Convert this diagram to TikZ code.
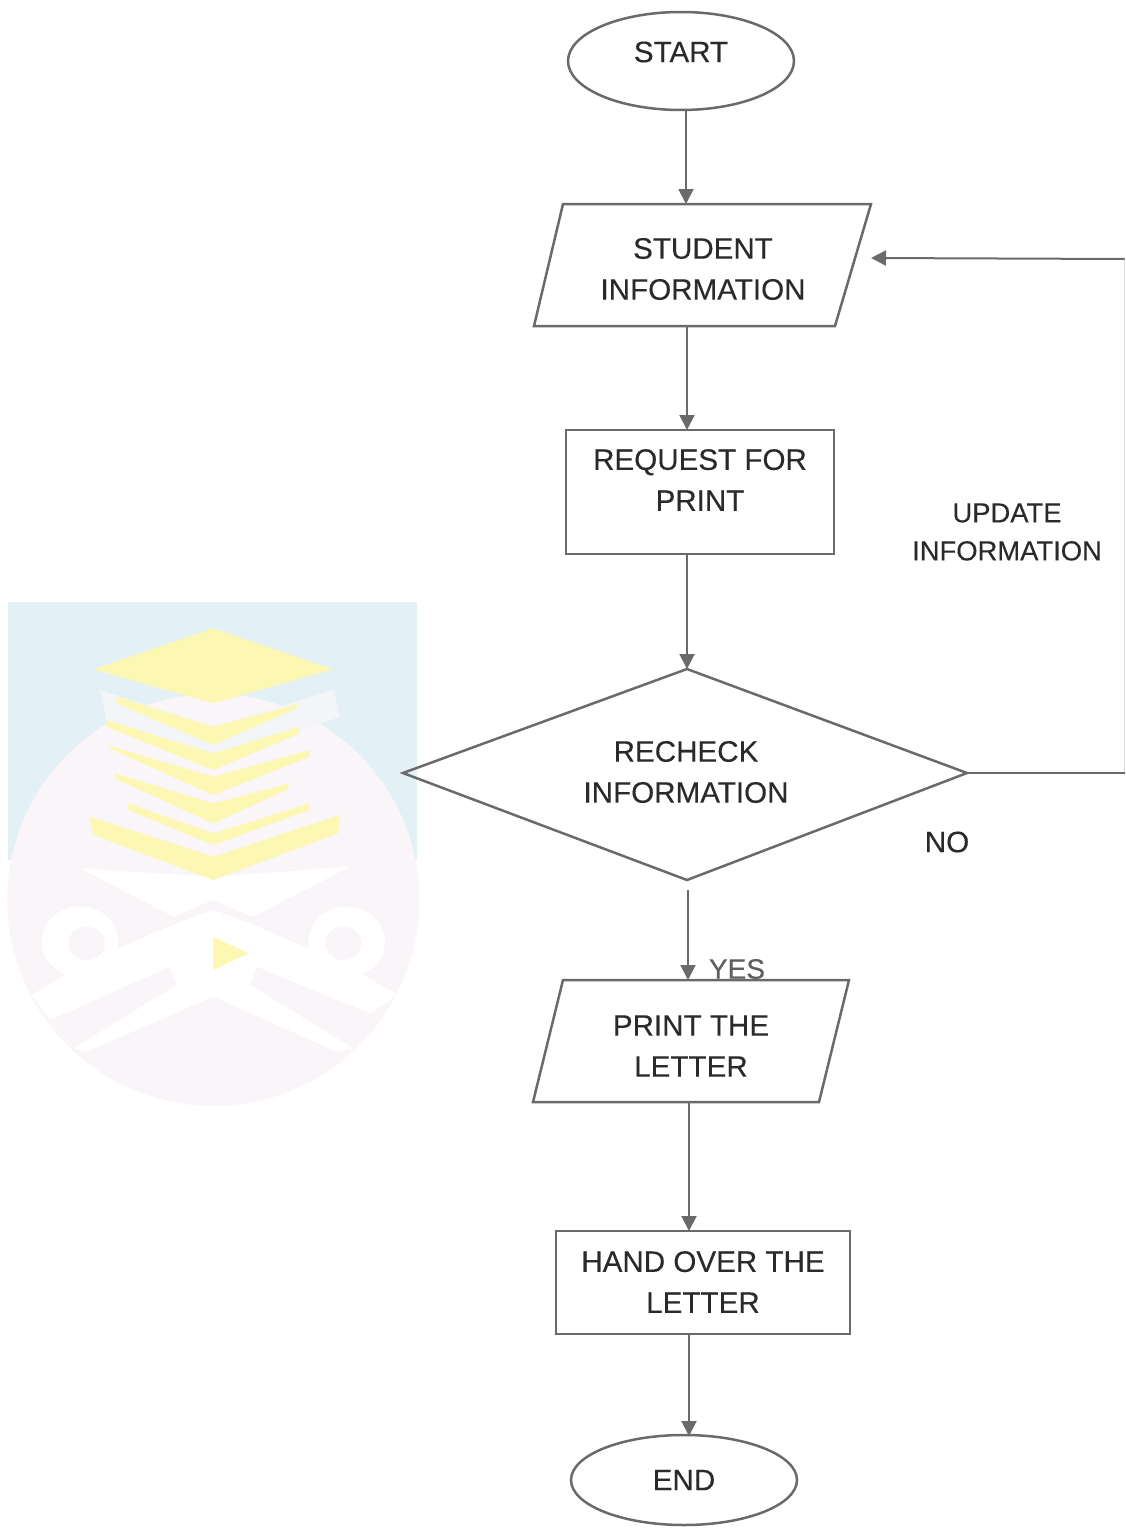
\documentclass[tikz,border=0pt]{standalone}
\usepackage{fontspec}
\setmainfont[FakeBold=0.25]{Liberation Sans}
\usetikzlibrary{arrows.meta,shapes.geometric}
\definecolor{ln}{HTML}{6A6A6A}
\definecolor{tx}{HTML}{2A2A2A}
\definecolor{wblue}{HTML}{E3F1F6}
\definecolor{wpink}{HTML}{F9F5F8}
\definecolor{wyel}{HTML}{FDF7B4}
\definecolor{wpale}{HTML}{F4F5F9}
\tikzset{
  outline/.style={draw=ln,line width=2.5pt,line join=miter},
  label/.style={text=tx,align=center,font=\fontsize{29.6}{41}\selectfont,inner sep=0pt},
  small/.style={text=tx,align=center,font=\fontsize{27.4}{38}\selectfont,inner sep=0pt},
  flow/.style={draw=ln,line width=2pt,-{Triangle[length=15pt,width=15pt,color=ln]}},
  plain/.style={draw=ln,line width=2pt},
  oval/.style={ellipse,outline,minimum width=226pt,inner sep=0pt},
  box/.style={rectangle,outline,inner sep=0pt},
}
\begin{document}
\begin{tikzpicture}[x=1pt,y=-1pt]
\useasboundingbox (0,0) rectangle (1125,1536);
% watermark
\begin{scope}[shift={(0,590)},scale=1/3]
\fill[wblue] (25,35) rectangle (1250,810);
\fill[wpink] (640,930) circle (618);
% top white chevron
\fill[white] (240,835) -- (640,860) -- (1050,830) -- (760,980) -- (640,930) -- (520,980) -- cycle;
% scroll blobs
\fill[white] (240,1055) ellipse (115 and 105);
\fill[white] (1040,1055) ellipse (115 and 105);
% crossing bands
\fill[white] (95,1215) -- (250,1120) -- (530,1000) -- (640,960) -- (750,1000) -- (1030,1120) -- (1195,1215) -- (1110,1270) -- (770,1130) -- (510,1130) -- (150,1290) -- cycle;
% centre
\fill[white] (530,1000) -- (640,960) -- (750,1000) -- (770,1130) -- (750,1185) -- (640,1220) -- (530,1185) -- (510,1130) -- cycle;
% lower gap
\fill[white] (220,1375) -- (530,1185) -- (640,1160) -- (750,1185) -- (1060,1375) -- (1010,1385) -- (640,1220) -- (260,1385) -- cycle;
% scroll centres
\fill[wpink] (260,1060) ellipse (55 and 50);
\fill[wpink] (1030,1060) ellipse (55 and 50);
\fill[wpale] (300,300) -- (640,410) -- (1000,300) -- (1020,380) -- (640,520) -- (320,390) -- cycle;
\fill[wyel] (280,238) -- (640,115) -- (1000,238) -- (640,340) -- cycle;
\fill[wyel] (350,320) -- (640,410) -- (900,340) -- (880,360) -- (640,465) -- (350,340) -- cycle;
\fill[wyel] (320,390) -- (640,490) -- (900,410) -- (900,430) -- (640,540) -- (320,410) -- cycle;
\fill[wyel] (320,465) -- (640,560) -- (930,480) -- (930,500) -- (640,615) -- (340,480) -- cycle;
\fill[wyel] (345,550) -- (640,640) -- (870,580) -- (860,600) -- (640,700) -- (345,565) -- cycle;
\fill[wyel] (385,640) -- (640,730) -- (930,640) -- (930,660) -- (640,765) -- (385,660) -- cycle;
\fill[wyel] (270,680) -- (640,800) -- (1020,675) -- (1015,730) -- (640,870) -- (280,735) -- cycle;
\fill[wyel] (640,1040) -- (745,1090) -- (640,1140) -- cycle;
\end{scope}
% shapes
\node[oval,minimum height=98pt] (start) at (681,61) {};
\node[label] (startT) at (681,52) {START};
\coordinate (s1) at (563,204); \coordinate (s2) at (871,204);
\coordinate (s3) at (835,326); \coordinate (s4) at (534,326);
\draw[outline] (s1) -- (s2) -- (s3) -- (s4) -- cycle;
\node[label] (student) at (703,269) {STUDENT\\INFORMATION};
\node[box,minimum width=268pt,minimum height=124pt] (req) at (700,492) {};
\node[label] (reqT) at (700,480) {REQUEST FOR\\PRINT};
\coordinate (d1) at (403,773); \coordinate (d2) at (687,669);
\coordinate (d3) at (967,773); \coordinate (d4) at (687,880);
\draw[outline] (d1) -- (d2) -- (d3) -- (d4) -- cycle;
\node[label] (recheck) at (686,772) {RECHECK\\INFORMATION};
\coordinate (p1) at (563,980); \coordinate (p2) at (849,980);
\coordinate (p3) at (819,1102); \coordinate (p4) at (533,1102);
\draw[outline] (p1) -- (p2) -- (p3) -- (p4) -- cycle;
\node[label] (print) at (691,1046) {PRINT THE\\LETTER};
\node[box,minimum width=294pt,minimum height=103pt] (hand) at (703,1282.5) {};
\node[label] (handT) at (703,1282) {HAND OVER THE\\LETTER};
\node[oval,minimum height=90pt] (end) at (684,1480) {};
\node[label] (endT) at (684,1480) {END};
\node[small] (upd) at (1007,532) {UPDATE\\INFORMATION};
\node[label] (no) at (947,842) {NO};
\node[text=ln!90!black,font=\fontsize{28}{34}\selectfont,inner sep=0pt] (yes) at (737,969) {YES};
% connectors
\coordinate (a1a) at (686,111); \coordinate (a1b) at (686,204);
\draw[flow] (a1a) -- (a1b);
\coordinate (a2a) at (687,326); \coordinate (a2b) at (687,430);
\draw[flow] (a2a) -- (a2b);
\coordinate (a3a) at (687,554); \coordinate (a3b) at (687,669);
\draw[flow] (a3a) -- (a3b);
\coordinate (a4a) at (688,890); \coordinate (a4b) at (688,980);
\draw[flow] (a4a) -- (a4b);
\coordinate (a5a) at (689,1102); \coordinate (a5b) at (689,1231);
\draw[flow] (a5a) -- (a5b);
\coordinate (a6a) at (689,1334); \coordinate (a6b) at (689,1436);
\draw[flow] (a6a) -- (a6b);
\coordinate (r1) at (1124.5,773); \coordinate (r2) at (1124.5,259); \coordinate (r3) at (871,258);
\draw[draw=ln!25,line width=1pt] (r1) -- (r2);
\draw[plain] (d3) -- (r1);
\draw[flow] (r2) -- (r3);
\end{tikzpicture}
\end{document}
